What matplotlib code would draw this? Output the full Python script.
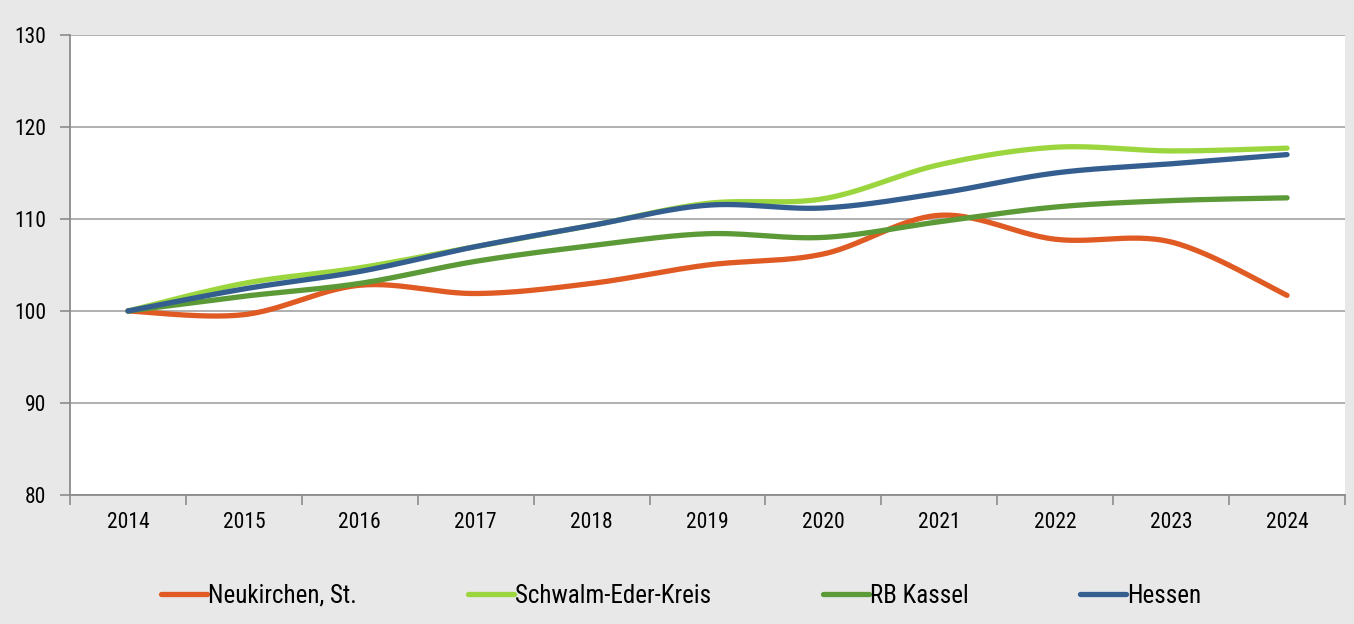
import numpy as np
import matplotlib
matplotlib.use("Agg")
import matplotlib.pyplot as plt
from matplotlib import font_manager
from matplotlib.lines import Line2D

years = ["2014", "2015", "2016", "2017", "2018", "2019", "2020", "2021", "2022", "2023", "2024"]
neukirchen = [100, 99.6, 102.8, 101.9, 103.0, 105.0, 106.2, 110.4, 107.8, 107.5, 101.7]
schwalm = [100, 103.0, 104.7, 107.0, 109.3, 111.7, 112.2, 115.9, 117.8, 117.4, 117.7]
rb_kassel = [100, 101.6, 103.0, 105.4, 107.1, 108.4, 108.0, 109.7, 111.3, 112.0, 112.3]
hessen = [100, 102.4, 104.3, 107.0, 109.3, 111.5, 111.2, 112.8, 115.0, 116.0, 117.0]

labels = ["Neukirchen, St.", "Schwalm-Eder-Kreis", "RB Kassel", "Hessen"]
series = [neukirchen, schwalm, rb_kassel, hessen]
colors = ["#E05A24", "#9CD63F", "#5B9A37", "#345E90"]

names = {f.name for f in font_manager.fontManager.ttflist}
fam, fs, lfs = "Liberation Sans", 14.5, 15
for cand, size, lsize in [("Liberation Sans Narrow", 17.5, 17.5), ("Arial Narrow", 17.5, 17.5),
                          ("Roboto Condensed", 15.5, 18), ("Open Sans Condensed", 15, 17)]:
    if cand in names:
        fam, fs, lfs = cand, size, lsize
        break
plt.rcParams["font.family"] = [fam, "DejaVu Sans"]


def smooth(x, y, n=30):
    x = np.asarray(x, float)
    y = np.asarray(y, float)
    P = np.column_stack([x, y])
    Pext = np.vstack([P[0], P, P[-1]])
    out = []
    t = np.linspace(0, 1, n)[:, None]
    for i in range(len(P) - 1):
        p0 = Pext[i + 1]
        p3 = Pext[i + 2]
        c1 = p0 + (Pext[i + 2] - Pext[i]) / 6.0
        c2 = p3 - (Pext[i + 3] - Pext[i + 1]) / 6.0
        seg = ((1 - t) ** 3) * p0 + 3 * ((1 - t) ** 2) * t * c1 + 3 * (1 - t) * t ** 2 * c2 + t ** 3 * p3
        out.append(seg if i == 0 else seg[1:])
    out = np.vstack(out)
    return out[:, 0], out[:, 1]


fig = plt.figure(figsize=(13.54, 6.24), dpi=100, facecolor="#E8E8E8")
ax = fig.add_axes([70 / 1354, 129 / 624, 1275 / 1354, 460 / 624])
ax.set_facecolor("white")

xi = np.arange(len(years))
for s, c in zip(series, colors):
    sx, sy = smooth(xi, s)
    ax.plot(sx, sy, color=c, lw=3.8, solid_capstyle="round", solid_joinstyle="round", zorder=3)

ax.set_xlim(-0.5, len(years) - 0.5)
ax.set_ylim(80, 130)
ax.set_yticks([80, 90, 100, 110, 120, 130])
ax.yaxis.grid(True, color="#9A9A9A", lw=1.1)
ax.set_axisbelow(True)

ax.set_xticks(xi)
ax.set_xticklabels(years, fontsize=fs)
ax.set_xticks(np.arange(-0.5, len(years), 1), minor=True)
ax.tick_params(axis="x", which="major", length=0, pad=12)
ax.tick_params(axis="x", which="minor", length=7, width=1.2, color="#8C8C8C", direction="out")
ax.tick_params(axis="y", length=7, width=1.2, color="#8C8C8C", direction="out", pad=10, labelsize=fs)

for sp in ["top", "right"]:
    ax.spines[sp].set_visible(False)
for sp in ["left", "bottom"]:
    ax.spines[sp].set_color("#8C8C8C")
    ax.spines[sp].set_linewidth(1.3)

handles = [Line2D([0], [0], color=c, lw=3.8, solid_capstyle="round") for c in colors]
fig.legend(handles, labels, loc="center", bbox_to_anchor=(681 / 1354, 28 / 624), ncol=4,
           frameon=False, fontsize=lfs, handlelength=1.84, handletextpad=0.05, columnspacing=4.45)

fig.savefig("out.png", dpi=100, facecolor=fig.get_facecolor())
